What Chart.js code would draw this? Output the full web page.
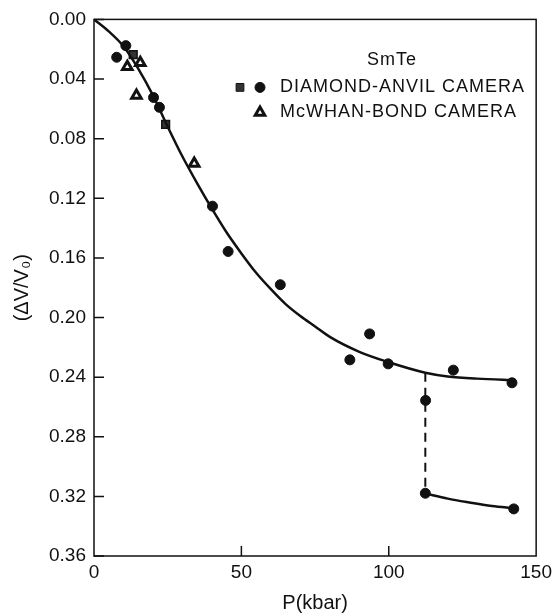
<!DOCTYPE html>
<html>
<head>
<meta charset="utf-8">
<script src="https://cdn.jsdelivr.net/npm/chart.js@4.4.0/dist/chart.umd.min.js"></script>
<style>
  html, body { margin: 0; padding: 0; background: #fff; }
  #wrap { width: 557px; height: 615px; }
</style>
</head>
<body>
<div id="wrap"><canvas id="chart" width="557" height="615"></canvas></div>
<script>
// SmTe volume change vs pressure
const curveP = [0, 5, 10, 15, 20, 25, 30, 35, 40, 45, 50, 55, 60, 65, 70, 75, 80, 90, 100, 112.4, 120, 130, 143];
const curveV = [0, 0.008, 0.018, 0.033, 0.051, 0.072, 0.092, 0.110, 0.127, 0.143, 0.157, 0.170, 0.181, 0.191, 0.199, 0.206, 0.213, 0.223, 0.230, 0.237, 0.2395, 0.241, 0.242];

const lowP = [112.4, 120, 127, 135, 142.4];
const lowV = [0.318, 0.3215, 0.324, 0.3265, 0.328];

const jumpP = [112.4, 112.4];
const jumpV = [0.237, 0.318];

// diamond-anvil camera: circles and squares
const anvilCircleP = [7.7, 10.8, 20.2, 22.2, 40.2, 45.5, 63.2, 86.8, 93.5, 99.8, 112.5, 112.4, 121.9, 141.8, 142.4];
const anvilCircleV = [0.0254, 0.0176, 0.0524, 0.059, 0.1253, 0.1557, 0.178, 0.2284, 0.211, 0.2311, 0.2556, 0.3179, 0.2353, 0.2438, 0.3284];
const anvilSquareP = [13.3, 24.3];
const anvilSquareV = [0.0236, 0.0705];

// McWhan-Bond camera: triangles
const mcwhanP = [11.3, 15.7, 14.4, 34.0];
const mcwhanV = [0.0317, 0.029, 0.051, 0.0966];

const yTicks = [0, 0.04, 0.08, 0.12, 0.16, 0.20, 0.24, 0.28, 0.32, 0.36];
const xTicks = [0, 50, 100, 150];
const xTickMarks = [50, 100];

const legendTitle = 'SmTe';
const legendRows = ['DIAMOND-ANVIL CAMERA', 'McWHAN-BOND CAMERA'];

const pts = (xs, ys) => xs.map((x, i) => ({ x: x, y: ys[i] }));
const ink = '#111';
const font = 'Liberation Sans, Arial, sans-serif';

// frame, inward tick marks and the legend text
const framePlugin = {
    id: 'frame',
    beforeDatasetsDraw(chart) {
        const { ctx, chartArea: a, scales: { x, y } } = chart;
        ctx.save();
        ctx.strokeStyle = ink;
        ctx.lineWidth = 1.5;
        ctx.strokeRect(a.left, a.top, a.right - a.left, a.bottom - a.top);
        ctx.beginPath();
        yTicks.forEach(v => {
            const py = y.getPixelForValue(v);
            ctx.moveTo(a.left, py);
            ctx.lineTo(a.left + 10, py);
        });
        xTickMarks.forEach(v => {
            const px = x.getPixelForValue(v);
            ctx.moveTo(px, a.bottom);
            ctx.lineTo(px, a.bottom - 10);
        });
        ctx.stroke();
        ctx.restore();
    },
    afterDraw(chart) {
        const { ctx, chartArea: a } = chart;
        const lx = a.left + 186;
        ctx.save();
        ctx.fillStyle = ink;
        ctx.strokeStyle = ink;
        ctx.font = '18px ' + font;
        ctx.letterSpacing = '1px';
        ctx.textBaseline = 'middle';
        ctx.textAlign = 'center';
        ctx.fillText(legendTitle, lx + 112, a.top + 41);
        ctx.textAlign = 'left';
        ctx.fillText(legendRows[0], lx, a.top + 68);
        ctx.fillText(legendRows[1], lx, a.top + 93);
        ctx.fillStyle = '#333';
        Chart.helpers.drawPoint(ctx, { pointStyle: 'rect', radius: 5.5, rotation: 0, borderWidth: 1.5 }, lx - 40, a.top + 68);
        ctx.fillStyle = ink;
        Chart.helpers.drawPoint(ctx, { pointStyle: 'circle', radius: 5, rotation: 0, borderWidth: 1 }, lx - 20, a.top + 68);
        ctx.fillStyle = '#fff';
        ctx.lineWidth = 3;
        Chart.helpers.drawPoint(ctx, { pointStyle: 'triangle', radius: 5.5, rotation: 0, borderWidth: 3 }, lx - 20, a.top + 93);
        ctx.restore();
    }
};

new Chart(document.getElementById('chart').getContext('2d'), {
    type: 'scatter',
    data: {
        datasets: [
            {
                data: pts(curveP, curveV), showLine: true, cubicInterpolationMode: 'monotone',
                borderColor: ink, borderWidth: 2.5, pointRadius: 0
            },
            {
                data: pts(lowP, lowV), showLine: true, cubicInterpolationMode: 'monotone',
                borderColor: ink, borderWidth: 2.5, pointRadius: 0
            },
            {
                data: pts(jumpP, jumpV), showLine: true, borderDash: [9, 6],
                borderColor: ink, borderWidth: 2, pointRadius: 0
            },
            {
                data: pts(anvilCircleP, anvilCircleV), pointStyle: 'circle', pointRadius: 5,
                backgroundColor: ink, borderColor: ink, borderWidth: 1
            },
            {
                data: pts(anvilSquareP, anvilSquareV), pointStyle: 'rect', pointRadius: 5.5,
                backgroundColor: '#333', borderColor: ink, borderWidth: 1.5
            },
            {
                data: pts(mcwhanP, mcwhanV), pointStyle: 'triangle', pointRadius: 5.5,
                backgroundColor: '#fff', borderColor: ink, borderWidth: 3
            }
        ]
    },
    options: {
        responsive: false,
        animation: false,
        layout: { padding: { top: 18, right: 15, left: 0, bottom: 0 } },
        plugins: { legend: { display: false }, tooltip: { enabled: false } },
        scales: {
            x: {
                type: 'linear', min: 0, max: 150,
                afterBuildTicks: s => { s.ticks = xTicks.map(v => ({ value: v })); },
                afterFit: s => { s.height = 59; },
                grid: { display: false, drawTicks: false },
                border: { display: false },
                ticks: { color: ink, padding: 5, font: { family: font, size: 19 }, maxRotation: 0 },
                title: {
                    display: true, text: 'P(kbar)', color: ink,
                    font: { family: font, size: 20 }, padding: { top: 0, bottom: 0 }
                }
            },
            y: {
                type: 'linear', min: 0, max: 0.36, reverse: true,
                afterBuildTicks: s => { s.ticks = yTicks.map(v => ({ value: v })); },
                afterFit: s => { s.width = 94; },
                grid: { display: false, drawTicks: false },
                border: { display: false },
                ticks: {
                    color: ink, padding: 8, font: { family: font, size: 19 },
                    callback: v => v.toFixed(2)
                },
                title: {
                    display: true, text: '(\u0394V/V\u2080)', color: ink,
                    font: { family: font, size: 20 }, padding: { top: 10, bottom: 10 }
                }
            }
        }
    },
    plugins: [framePlugin]
});
</script>
</body>
</html>
